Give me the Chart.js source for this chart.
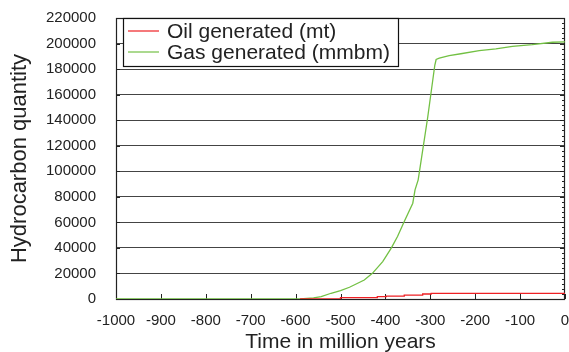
<!DOCTYPE html>
<html>
<head>
<meta charset="utf-8">
<script src="https://cdn.jsdelivr.net/npm/chart.js@4/dist/chart.umd.min.js"></script>
<style>
  html, body { margin: 0; padding: 0; background: #fff; }
  #wrap { width: 569px; height: 352px; }
</style>
</head>
<body>
<div id="wrap"><canvas id="chart" width="569" height="352"></canvas></div>
<script>
// series (time in Ma, quantity)
var oilLabel = 'Oil generated (mt)';
var oilYears  = [-590, -500, -418, -398, -358, -317, -298, 0];
var oilValues = [0, 1000, 1800, 2300, 3100, 3900, 4400, 4500];

var gasLabel = 'Gas generated (mmbm)';
var gasYears  = [-1000, -590, -560, -543, -521, -500, -480, -447, -429, -406, -387, -373, -358, -339, -334, -327, -306, -290, -287, -280, -269, -258, -232, -191, -154, -117, -73, -28, 0];
var gasValues = [0, 0, 800, 1800, 4500, 6500, 9200, 14900, 20100, 29300, 39800, 48900, 60600, 75000, 85500, 93300, 141700, 183000, 187500, 188500, 189600, 190600, 192000, 194500, 195800, 197800, 199200, 201000, 201300];

var xTitle = 'Time in million years';
var yTitle = 'Hydrocarbon quantity';

var fontFamily = '"Liberation Sans", Arial, sans-serif';

function toPoints(xs, ys) {
    return xs.map(function (x, i) { return { x: x, y: ys[i] }; });
}

function plainNumber(v) {
    return String(v);
}

// frame + inside tick marks
var framePlugin = {
    id: 'frame',
    beforeDatasetsDraw: function (chart) {
        var ctx = chart.ctx, a = chart.chartArea;
        var xs = chart.scales.x, ys = chart.scales.y;
        ctx.save();
        ctx.strokeStyle = '#222';
        ctx.lineWidth = 1;
        ctx.beginPath();
        // x ticks pointing up
        for (var v = -1000; v <= 0; v += 100) {
            var px = Math.round(xs.getPixelForValue(v)) + 0.5;
            ctx.moveTo(px, a.bottom);
            ctx.lineTo(px, a.bottom - 5);
        }
        // left major ticks
        for (var y = 0; y <= 220000; y += 20000) {
            var py = Math.round(ys.getPixelForValue(y)) + 0.5;
            ctx.moveTo(a.left, py);
            ctx.lineTo(a.left + 4, py);
        }
        // right minor ticks
        for (var y2 = 0; y2 <= 220000; y2 += 4000) {
            var py2 = Math.round(ys.getPixelForValue(y2)) + 0.5;
            var len = (y2 % 20000 === 0) ? 5 : 3;
            ctx.moveTo(a.right, py2);
            ctx.lineTo(a.right - len, py2);
        }
        ctx.stroke();
        ctx.lineWidth = 1.2;
        ctx.strokeRect(a.left + 0.5, a.top + 0.5, a.right - a.left - 1, a.bottom - a.top);
        ctx.restore();
    }
};

// boxed legend in the top-left corner of the plot
var boxLegend = {
    id: 'boxLegend',
    afterDraw: function (chart) {
        var ctx = chart.ctx, a = chart.chartArea;
        var left = a.left + 7, top = a.top, w = 275, h = 48;
        ctx.save();
        ctx.fillStyle = '#fff';
        ctx.fillRect(left, top, w, h);
        ctx.strokeStyle = '#111';
        ctx.lineWidth = 1.2;
        ctx.strokeRect(left + 0.5, top + 0.5, w, h);
        ctx.font = '21px ' + fontFamily;
        ctx.textBaseline = 'middle';
        chart.data.datasets.forEach(function (ds, i) {
            var cy = top + 13 + i * 21;
            ctx.strokeStyle = ds.borderColor;
            ctx.lineWidth = 1.2;
            ctx.beginPath();
            ctx.moveTo(left + 5, cy);
            ctx.lineTo(left + 36, cy);
            ctx.stroke();
            ctx.fillStyle = '#222';
            ctx.fillText(ds.label, left + 44, cy + 1);
        });
        ctx.restore();
    }
};

var config = {
    type: 'line',
    data: {
        datasets: [{
            label: oilLabel,
            data: toPoints(oilYears, oilValues),
            borderColor: '#ee2024',
            borderWidth: 1.3,
            pointRadius: 0,
            stepped: true,
            fill: false
        }, {
            label: gasLabel,
            data: toPoints(gasYears, gasValues),
            borderColor: '#72c043',
            borderWidth: 1.3,
            pointRadius: 0,
            tension: 0,
            fill: false
        }]
    },
    options: {
        responsive: false,
        animation: false,
        layout: {
            padding: { top: 18, right: 4, left: 0, bottom: 0 }
        },
        plugins: {
            legend: { display: false },
            tooltip: { enabled: false }
        },
        scales: {
            x: {
                type: 'linear',
                min: -1000,
                max: 0,
                ticks: {
                    stepSize: 100,
                    padding: 5,
                    maxRotation: 0,
                    autoSkip: false,
                    color: '#222',
                    callback: plainNumber,
                    font: { family: fontFamily, size: 15 }
                },
                grid: { display: false },
                border: { display: false },
                title: {
                    display: true,
                    text: xTitle,
                    color: '#222',
                    font: { family: fontFamily, size: 21 },
                    padding: { top: 0, bottom: -3 }
                },
                afterFit: function (s) {
                    s.height = 53;
                    s.paddingLeft = 0;
                    s.paddingRight = 0;
                }
            },
            y: {
                min: 0,
                max: 220000,
                ticks: {
                    stepSize: 20000,
                    padding: 20,
                    color: '#222',
                    callback: plainNumber,
                    font: { family: fontFamily, size: 15 }
                },
                grid: {
                    color: '#444',
                    lineWidth: 1,
                    drawTicks: false
                },
                border: { display: false },
                title: {
                    display: true,
                    text: yTitle,
                    color: '#222',
                    font: { family: fontFamily, size: 22 },
                    padding: { top: 7, bottom: 0 }
                },
                afterFit: function (s) {
                    s.width = 116;
                    s.paddingTop = 0;
                    s.paddingBottom = 0;
                }
            }
        }
    },
    plugins: [framePlugin, boxLegend]
};

window.onload = function () {
    var ctx = document.getElementById('chart').getContext('2d');
    window.myChart = new Chart(ctx, config);
};
</script>
</body>
</html>
